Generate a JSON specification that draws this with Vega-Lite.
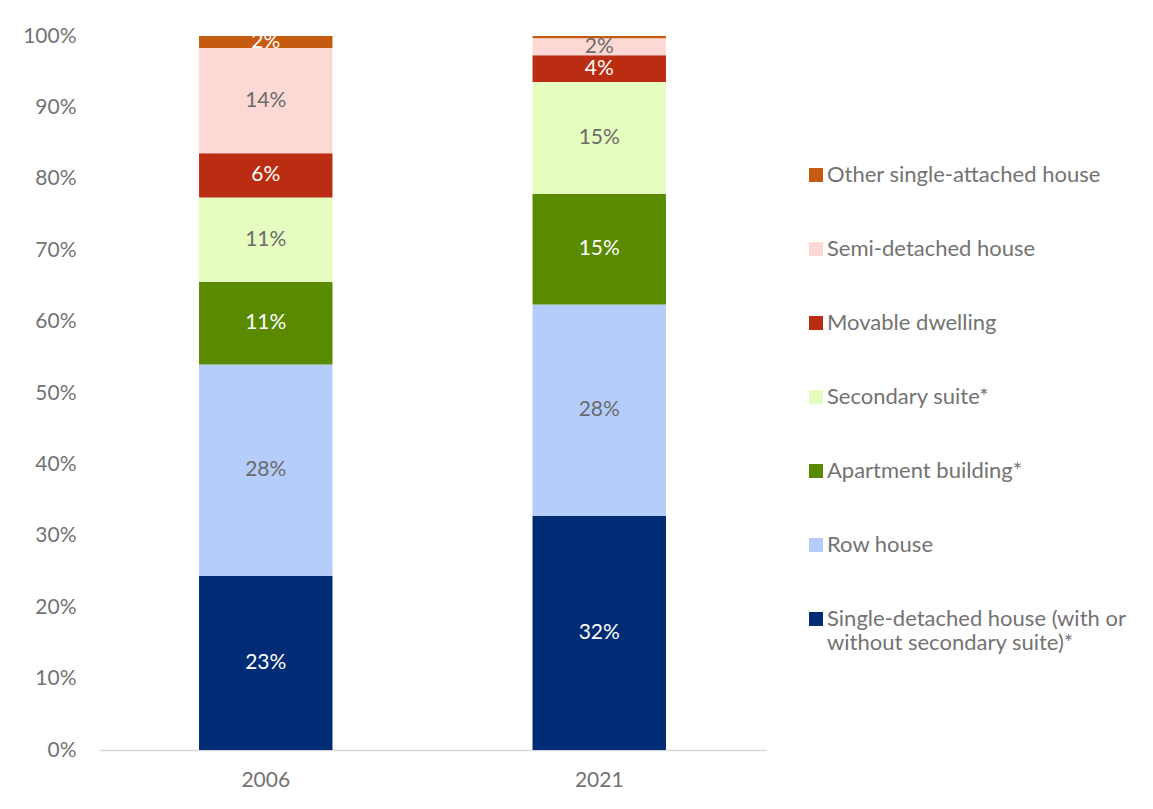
{
  "$schema": "https://vega.github.io/schema/vega-lite/v6.json",
  "width": 667,
  "height": 714,
  "autosize": {"type": "none"},
  "padding": {"left": 99, "top": 36, "right": 387, "bottom": 59},
  "background": "white",
  "config": {"view": {"stroke": null}, "font": "Lato"},
  "data": {
    "values": [
      {"year": "2006", "category": "Single-detached house (with or without secondary suite)*", "value": 0.232},
      {"year": "2006", "category": "Row house", "value": 0.281},
      {"year": "2006", "category": "Apartment building*", "value": 0.110},
      {"year": "2006", "category": "Secondary suite*", "value": 0.112},
      {"year": "2006", "category": "Movable dwelling", "value": 0.059},
      {"year": "2006", "category": "Semi-detached house", "value": 0.140},
      {"year": "2006", "category": "Other single-attached house", "value": 0.016},
      {"year": "2021", "category": "Single-detached house (with or without secondary suite)*", "value": 0.315},
      {"year": "2021", "category": "Row house", "value": 0.284},
      {"year": "2021", "category": "Apartment building*", "value": 0.149},
      {"year": "2021", "category": "Secondary suite*", "value": 0.150},
      {"year": "2021", "category": "Movable dwelling", "value": 0.036},
      {"year": "2021", "category": "Semi-detached house", "value": 0.023},
      {"year": "2021", "category": "Other single-attached house", "value": 0.003}
    ]
  },
  "transform": [
    {"calculate": "indexof(['Other single-attached house', 'Semi-detached house', 'Movable dwelling', 'Secondary suite*', 'Apartment building*', 'Row house', 'Single-detached house (with or without secondary suite)*'], datum.category)", "as": "rank"}
  ],
  "encoding": {
    "x": {
      "field": "year", "type": "nominal",
      "scale": {"paddingInner": 0.6, "paddingOuter": 0.3},
      "axis": {"title": null, "labelAngle": 0, "ticks": false, "domainColor": "#d9d9d9", "domainWidth": 1.5, "labelFontSize": 21, "labelColor": "#737373", "labelPadding": 19}
    },
    "y": {
      "field": "value", "type": "quantitative", "stack": "normalize",
      "scale": {"domain": [0, 1]},
      "axis": {"title": null, "format": ".0%", "values": [0, 0.1, 0.2, 0.3, 0.4, 0.5, 0.6, 0.7, 0.8, 0.9, 1], "grid": false, "domain": false, "ticks": false, "labelFontSize": 21, "labelColor": "#737373", "labelPadding": 23}
    },
    "order": {"field": "rank", "type": "quantitative", "sort": "descending"}
  },
  "layer": [
    {
      "mark": {"type": "bar"},
      "encoding": {
        "color": {
          "field": "category", "type": "nominal",
          "sort": ["Other single-attached house", "Semi-detached house", "Movable dwelling", "Secondary suite*", "Apartment building*", "Row house", "Single-detached house (with or without secondary suite)*"],
          "scale": {
            "domain": ["Other single-attached house", "Semi-detached house", "Movable dwelling", "Secondary suite*", "Apartment building*", "Row house", "Single-detached house (with or without secondary suite)*"],
            "range": ["#C55A11", "#FCD9D4", "#BA2D12", "#E6FDC0", "#5A8A00", "#B4CDFB", "#002B75"]
          },
          "legend": {
            "orient": "none", "legendX": 706, "legendY": 128, "title": null, "padding": 0,
            "symbolType": "square", "symbolSize": 196, "symbolStrokeWidth": 0,
            "labelFontSize": 22, "labelColor": "#737373", "labelLimit": 400, "labelOffset": 0,
            "rowPadding": 52,
            "labelExpr": "datum.label == 'Single-detached house (with or without secondary suite)*' ? ['Single-detached house (with or', 'without secondary suite)*'] : datum.label",
            "encode": {"labels": {"update": {"dy": {"condition": {"test": "datum.value == 'Single-detached house (with or without secondary suite)*'", "value": 12}, "value": 0}}}}
          }
        }
      }
    },
    {
      "mark": {"type": "text", "fontSize": 21},
      "encoding": {
        "y": {"field": "value", "type": "quantitative", "stack": "normalize", "bandPosition": 0.5},
        "text": {"field": "value", "format": ".0%"},
        "opacity": {"condition": {"test": "datum.value < 0.01", "value": 0}, "value": 1},
        "color": {
          "field": "category", "type": "nominal",
          "sort": ["Other single-attached house", "Semi-detached house", "Movable dwelling", "Secondary suite*", "Apartment building*", "Row house", "Single-detached house (with or without secondary suite)*"],
          "scale": {
            "domain": ["Other single-attached house", "Semi-detached house", "Movable dwelling", "Secondary suite*", "Apartment building*", "Row house", "Single-detached house (with or without secondary suite)*"],
            "range": ["#ffffff", "#6b6b6b", "#ffffff", "#6b6b6b", "#ffffff", "#6b6b6b", "#ffffff"]
          },
          "legend": null
        }
      }
    }
  ],
  "resolve": {"scale": {"color": "independent"}}
}
